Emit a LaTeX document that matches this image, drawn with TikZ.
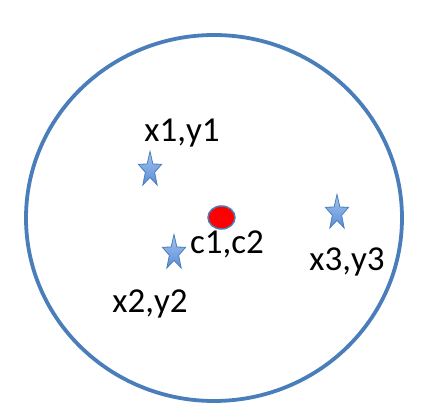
\documentclass[tikz,border=0pt]{standalone}
\usepackage{fontspec}
\setmainfont{Carlito}
\usetikzlibrary{shapes.geometric}
\definecolor{borde}{HTML}{4A7EBB}
\definecolor{estrellaclara}{HTML}{A4C5F0}
\definecolor{estrellaoscura}{HTML}{5A8DD6}
\begin{document}
\begin{tikzpicture}[
	x=1pt, y=-1pt,
	punto/.style={
		star,
		star points=5,
		star point ratio=2.5,
		minimum size=37pt,
		inner sep=0pt,
		draw=borde,
		line width=0.8pt,
		top color=estrellaclara,
		bottom color=estrellaoscura,
		xscale=0.66,
		transform shape
	},
	centro/.style={
		ellipse,
		minimum width=27pt,
		minimum height=23pt,
		inner sep=0pt,
		fill=red,
		draw=borde,
		line width=1.5pt
	},
	etiqueta/.style={anchor=base, inner sep=0pt, font=\fontsize{35}{40}\selectfont}
]

\useasboundingbox (0,0) rectangle (434,417);

% Frontera del cluster
\draw[borde, line width=3.8pt] (214,218) ellipse [x radius=188pt, y radius=183pt];

% Puntos
\node[punto] (p1) at (150,170) {};
\node[punto] (p2) at (174,253) {};
\node[punto] (p3) at (337,213) {};

% Centroide
\node[centro] (c) at (221.5,217.5) {};

% Etiquetas
\node[etiqueta] (l1) at (182,142) {x1,y1};
\node[etiqueta] (l2) at (150,312) {x2,y2};
\node[etiqueta] (l3) at (347,270) {x3,y3};
\node[etiqueta] (lc) at (227,253) {c1,c2};

\end{tikzpicture}
\end{document}
